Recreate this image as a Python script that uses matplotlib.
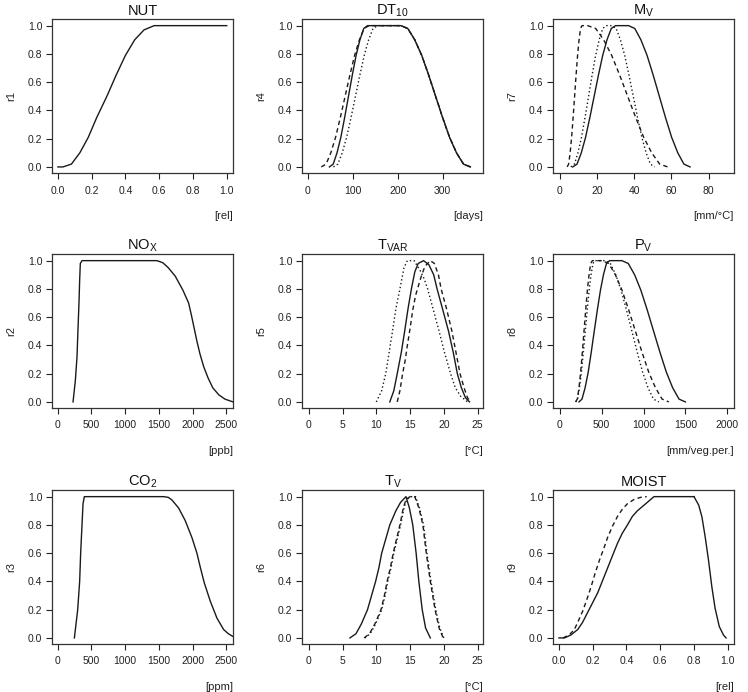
import matplotlib.pyplot as plt

plt.rcParams['font.family'] = ['Liberation Sans', 'DejaVu Sans']
plt.rcParams['mathtext.fontset'] = 'custom'
plt.rcParams['mathtext.rm'] = 'Liberation Sans'
plt.rcParams['mathtext.default'] = 'rm'

# y levels at which the x positions of the bell shaped curves were read
bell_y = [0, 0.02, 0.1, 0.21, 0.35, 0.5, 0.65, 0.79, 0.9, 0.98, 1.0,
          1.0, 0.98, 0.9, 0.79, 0.65, 0.5, 0.35, 0.21, 0.1, 0.02, 0]

# NUT
nut_x = [0, 0.03, 0.08, 0.13, 0.18, 0.23, 0.29, 0.345, 0.40, 0.455, 0.51, 0.57, 1.0]
nut_y = [0, 0, 0.02, 0.1, 0.21, 0.35, 0.5, 0.65, 0.79, 0.9, 0.97, 1.0, 1.0]

# DT10
dt_solid_x = [48, 56.5, 65, 73.5, 82, 90.5, 99, 107.5, 116, 124.5, 133,
              207, 222.5, 238, 253.5, 269, 284.5, 300, 315.5, 331, 346.5, 362]
dt_dash_x = [30, 40.6, 51.2, 61.8, 72.4, 83, 93.6, 104.2, 114.8, 125.4, 136,
             207, 222.5, 238, 253.5, 269, 284.5, 300, 315.5, 331, 346.5, 362]
dt_dot_x = [57, 66.8, 76.6, 86.4, 96.2, 106, 115.8, 125.6, 135.4, 145.2, 155,
            207, 222.5, 238, 253.5, 269, 284.5, 300, 315.5, 331, 346.5, 362]

# M_V
mv_solid_x = [7, 9.3, 11.6, 13.9, 16.2, 18.5, 20.8, 23.1, 25.4, 27.7, 30,
              37, 40.3, 43.6, 46.9, 50.2, 53.5, 56.8, 60.1, 63.4, 66.7, 70]
mv_dash_x = [4, 4.8, 5.6, 6.4, 7.2, 8, 8.8, 9.6, 10.4, 11.2, 12,
             15, 19.3, 23.6, 27.9, 32.2, 36.5, 40.8, 45.1, 49.4, 53.7, 58]
mv_dot_x = [6, 7.9, 9.8, 11.7, 13.6, 15.5, 17.4, 19.3, 21.2, 23.1, 25,
            28, 30.3, 32.6, 34.9, 37.2, 39.5, 41.8, 44.1, 46.4, 48.7, 51]

# NO_X
nox_x = [228, 262, 287, 301, 316, 326, 336, 361, 1473, 1560, 1640, 1744, 1858,
         1942, 1985, 2025, 2065, 2110, 2165, 2230, 2300, 2390, 2480, 2600]
nox_y = [0, 0.15, 0.32, 0.51, 0.70, 0.86, 0.98, 1.0, 1.0, 0.985, 0.95, 0.89, 0.79,
         0.70, 0.61, 0.52, 0.43, 0.34, 0.25, 0.17, 0.10, 0.05, 0.02, 0.0]

# T_VAR
tvar_solid_x = [12, 12.6, 13.1, 13.7, 14.2, 14.7, 15.2, 15.7, 16.2, 17.0, 17.8,
                18.5, 19.0, 19.8, 20.7, 21.4, 22.0, 22.6, 23.2, 23.8]
tvar_solid_y = [0, 0.08, 0.2, 0.35, 0.5, 0.66, 0.8, 0.92, 0.98, 1.0, 0.97,
                0.9, 0.8, 0.66, 0.5, 0.35, 0.2, 0.1, 0.03, 0]
tvar_dash_x = [13.1, 13.5, 13.9, 14.3, 14.6, 15.0, 15.4, 15.8, 16.1, 16.6, 17.2,
               18.0, 18.6, 19.2, 19.6, 20.4, 21.2, 21.8, 22.4, 23.0, 23.5, 24.0]
tvar_dash_y = [0, 0.08, 0.2, 0.3, 0.4, 0.52, 0.65, 0.75, 0.8, 0.88, 0.96,
               1.0, 0.98, 0.9, 0.8, 0.66, 0.5, 0.35, 0.2, 0.1, 0.03, 0]
tvar_dot_x = [10, 10.8, 11.4, 11.9, 12.4, 12.9, 13.5, 14.1, 14.6, 15.6, 16.5,
              17.1, 17.6, 18.4, 19.3, 20.1, 21.0, 21.7, 22.5, 23.5]
tvar_dot_y = [0, 0.08, 0.2, 0.35, 0.5, 0.66, 0.8, 0.95, 1.0, 1.0, 0.93,
              0.87, 0.8, 0.66, 0.5, 0.35, 0.2, 0.1, 0.04, 0]

# P_V
pv_solid_x = [230, 266, 303, 340, 376, 412, 449, 486, 522, 558, 595,
              742, 818, 894, 969, 1045, 1121, 1197, 1273, 1348, 1424, 1500]
pv_dash_x = [190, 210, 230, 250, 270, 290, 310, 330, 350, 370, 390,
             505, 585, 664, 744, 824, 904, 983, 1063, 1143, 1222, 1302]
pv_dot_x = [190, 213, 236, 259, 282, 305, 328, 351, 374, 397, 420,
            540, 604, 669, 733, 797, 862, 926, 990, 1054, 1119, 1183]

# CO2
co2_x = [248, 297, 326, 341, 361, 376, 396, 1571, 1640, 1695, 1793, 1892, 1991,
         2065, 2115, 2174, 2263, 2362, 2460, 2530, 2600]
co2_y = [0, 0.2, 0.4, 0.6, 0.8, 0.95, 1.0, 1.0, 0.995, 0.976, 0.92, 0.83, 0.71,
         0.60, 0.50, 0.39, 0.26, 0.14, 0.06, 0.03, 0.01]

# T_V
tv_solid_x = [6.1, 7.0, 7.8, 8.7, 9.3, 9.9, 10.4, 10.8, 11.4, 12.0, 12.9, 13.6,
              14.4, 14.9, 15.4, 15.9, 16.3, 16.8, 17.3, 18.0]
tv_solid_y = [0, 0.03, 0.1, 0.2, 0.3, 0.4, 0.5, 0.6, 0.7, 0.8, 0.9, 0.96,
              1.0, 0.92, 0.8, 0.6, 0.4, 0.2, 0.07, 0]
tv_dash_x = [8.2, 9.0, 9.8, 10.7, 11.2, 11.6, 12.1, 12.5, 13.0, 13.5, 14.0,
             14.4, 15.0, 15.7, 16.3, 16.9, 17.4, 18.0, 18.7, 19.3, 19.9]
tv_dash_y = [0, 0.03, 0.1, 0.2, 0.3, 0.4, 0.5, 0.6, 0.7, 0.8, 0.92,
             0.98, 1.0, 1.0, 0.92, 0.8, 0.6, 0.4, 0.2, 0.07, 0]
tv_dot_x = [8.3, 9.1, 9.9, 10.8, 11.3, 11.7, 12.2, 12.6, 13.1, 13.6, 14.1,
            14.5, 15.1, 15.8, 16.4, 17.0, 17.5, 18.1, 18.8, 19.4, 20.0]

# MOIST
moist_solid_x = [0.0, 0.033, 0.07, 0.112, 0.14, 0.17, 0.2, 0.23, 0.26, 0.29, 0.32,
                 0.347, 0.375, 0.406, 0.435, 0.465, 0.524, 0.563, 0.80]
moist_solid_y = [0, 0, 0.02, 0.06, 0.11, 0.18, 0.25, 0.32, 0.41, 0.5, 0.59,
                 0.67, 0.74, 0.80, 0.86, 0.90, 0.96, 1.0, 1.0]
moist_dash_x = [0.024, 0.06, 0.092, 0.115, 0.141, 0.165, 0.19, 0.215, 0.24, 0.265,
                0.288, 0.317, 0.347, 0.375, 0.406, 0.445, 0.484, 0.52]
moist_dash_y = [0, 0.02, 0.06, 0.12, 0.19, 0.27, 0.36, 0.46, 0.55, 0.63,
                0.71, 0.79, 0.86, 0.91, 0.95, 0.98, 0.995, 1.0]
moist_fall_x = [0.80, 0.828, 0.847, 0.867, 0.886, 0.906, 0.925, 0.95, 0.975, 0.99]
moist_fall_y = [1.0, 0.94, 0.857, 0.71, 0.55, 0.36, 0.21, 0.08, 0.02, 0.0]

titles = ['NUT', 'DT$_{10}$', 'M$_V$', 'NO$_X$', 'T$_{VAR}$', 'P$_V$',
          'CO$_2$', 'T$_V$', 'MOIST']
ylabels = ['r1', 'r4', 'r7', 'r2', 'r5', 'r8', 'r3', 'r6', 'r9']
units = ['[rel]', '[days]', '[mm/\u00b0C]', '[ppb]', '[\u00b0C]', '[mm/veg.per.]',
         '[ppm]', '[\u00b0C]', '[rel]']
xticks = [[0, 0.2, 0.4, 0.6, 0.8, 1.0], [0, 100, 200, 300], [0, 20, 40, 60, 80],
          [0, 500, 1000, 1500, 2000, 2500], [0, 5, 10, 15, 20, 25],
          [0, 500, 1000, 1500, 2000], [0, 500, 1000, 1500, 2000, 2500],
          [0, 5, 10, 15, 20, 25], [0, 0.2, 0.4, 0.6, 0.8, 1.0]]
xlims = [(-0.035, 1.037), (-13, 390), (-3.6, 93.6), (-84, 2600), (-1, 25.8),
         (-80, 2080), (-84, 2600), (-1, 25.8), (-0.035, 1.037)]

SOLID = '-'
DASH = (0, (3.2, 2.4))
DOT = (0, (1.0, 1.8))

curves = [
    [(nut_x, nut_y, SOLID)],
    [(dt_dash_x, bell_y, DASH), (dt_dot_x, bell_y, DOT), (dt_solid_x, bell_y, SOLID)],
    [(mv_dash_x, bell_y, DASH), (mv_dot_x, bell_y, DOT), (mv_solid_x, bell_y, SOLID)],
    [(nox_x, nox_y, SOLID)],
    [(tvar_dash_x, tvar_dash_y, DASH), (tvar_dot_x, tvar_dot_y, DOT),
     (tvar_solid_x, tvar_solid_y, SOLID)],
    [(pv_dash_x, bell_y, DASH), (pv_dot_x, bell_y, DOT), (pv_solid_x, bell_y, SOLID)],
    [(co2_x, co2_y, SOLID)],
    [(tv_dash_x, tv_dash_y, DASH), (tv_dot_x, tv_dash_y, DOT),
     (tv_solid_x, tv_solid_y, SOLID)],
    [(moist_dash_x, moist_dash_y, DASH), (moist_solid_x, moist_solid_y, SOLID),
     (moist_fall_x, moist_fall_y, SOLID)],
]

fig = plt.figure(figsize=(7.48, 6.92), dpi=100)
W, H = 748.0, 692.0
col_left = [52, 302, 553]
row_top = [19, 254, 490]
aw, ah = 181, 154

for i in range(9):
    r, c = divmod(i, 3)
    ax = fig.add_axes([col_left[c] / W, 1 - (row_top[r] + ah) / H, aw / W, ah / H])
    for xs, ys, ls in curves[i]:
        ax.plot(xs, ys, color='#1a1a1a', lw=1.0, linestyle=ls)
    ax.set_xlim(*xlims[i])
    ax.set_ylim(-0.043, 1.047)
    ax.set_xticks(xticks[i])
    if xticks[i][-1] == 1.0:
        ax.set_xticklabels(['%.1f' % v for v in xticks[i]])
    ax.set_yticks([0, 0.2, 0.4, 0.6, 0.8, 1.0])
    ax.set_yticklabels(['0.0', '0.2', '0.4', '0.6', '0.8', '1.0'])
    ax.tick_params(axis='x', direction='out', length=4, width=0.8, pad=5,
                   labelsize=7.5, colors='#222222')
    ax.tick_params(axis='y', direction='out', length=4, width=0.8, pad=3,
                   labelsize=7.5, colors='#222222')
    for s in ax.spines.values():
        s.set_color('#333333')
        s.set_linewidth(0.9)
    ax.set_title(titles[i], fontsize=10.5, pad=3, color='#111111')
    ax.text(-0.225, 0.5, ylabels[i], transform=ax.transAxes, rotation=90,
            ha='center', va='center', fontsize=8, color='#222222')
    ax.annotate(units[i], xy=(1, 0), xycoords='axes fraction', xytext=(0, -43),
                textcoords='offset pixels', ha='right', va='center',
                fontsize=8, color='#222222')

fig.savefig('out.png', dpi=100)
